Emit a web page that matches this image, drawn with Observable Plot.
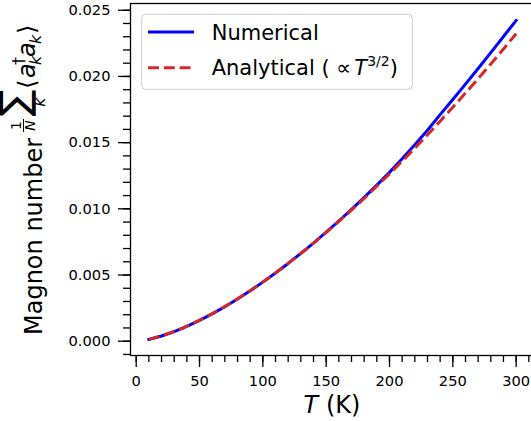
<!DOCTYPE html>
<html><head><meta charset="utf-8">
<script src="https://cdn.jsdelivr.net/npm/d3@7"></script>
<script src="https://cdn.jsdelivr.net/npm/@observablehq/plot@0.6"></script>
<style>
html,body{margin:0;padding:0;background:#fff;overflow:hidden}
svg text{font-family:"DejaVu Sans"}
</style></head><body><div id="chart"></div>
<script>
const temperatures = [10,20,30,40,50,60,70,80,90,100,110,120,130,140,150,160,170,180,190,200,210,220,230,240,250,260,270,280,290,300];
const numerical = [0.000135,0.000395,0.000728,0.001122,0.001570,0.002066,0.002606,0.003187,0.003806,0.004462,0.005152,0.005874,0.006630,0.007415,0.008232,0.009080,0.009955,0.010860,0.011792,0.012753,0.013775,0.014836,0.015932,0.017119,0.018259,0.019420,0.020601,0.021803,0.023016,0.024227];
const analytical = [0.0001414,0.0003998,0.0007345,0.0011308,0.0015804,0.0020775,0.0026179,0.0031985,0.0038165,0.00447,0.005157,0.0058758,0.0066254,0.0074046,0.0082118,0.0090468,0.0099078,0.010795,0.011707,0.012643,0.013603,0.014586,0.015592,0.016619,0.017669,0.01874,0.019831,0.020943,0.022076,0.023227];
const xTicks = [0,50,100,150,200,250,300];
const yTicks = [0,0.005,0.010,0.015,0.020,0.025];
const xMinorTicks = [0,10,20,30,40,50,60,70,80,90,100,110,120,130,140,150,160,170,180,190,200,210,220,230,240,250,260,270,280,290,300,310];
const yMinorTicks = [-0.001,0,0.001,0.002,0.003,0.004,0.005,0.006,0.007,0.008,0.009,0.010,0.011,0.012,0.013,0.014,0.015,0.016,0.017,0.018,0.019,0.020,0.021,0.022,0.023,0.024,0.025];
const seriesNames = ["Numerical", "Analytical ("];

const rows = temperatures.map((t, i) => ({t, numerical: numerical[i], analytical: analytical[i]}));

const svg = Plot.plot({
  width: 531, height: 421,
  marginLeft: 130, marginRight: -3, marginTop: 3, marginBottom: 66,
  style: {fontFamily: "DejaVu Sans", fontSize: "14.67px", color: "#000", background: "#fff", overflow: "hidden"},
  x: {domain: [-4.5, 314.5]},
  y: {domain: [-0.00108, 0.02551]},
  marks: [
    Plot.axisX(xMinorTicks, {tickSize: 7, text: null, label: null, strokeWidth: 1.3}),
    Plot.axisX(xTicks, {tickSize: 12, tickPadding: 8, tickFormat: d => String(d), label: null, strokeWidth: 1.3, fontSize: 14.67}),
    Plot.axisY(yMinorTicks, {tickSize: 7, text: null, label: null, strokeWidth: 1.3}),
    Plot.axisY(yTicks, {tickSize: 12, tickPadding: 8, tickFormat: d3.format(".3f"), label: null, strokeWidth: 1.3, fontSize: 14.67}),
    Plot.line(rows, {x: "t", y: "numerical", stroke: "#0000ff", strokeWidth: 3, strokeLinecap: "square"}),
    Plot.line(rows, {x: "t", y: "analytical", stroke: "#d62728", strokeWidth: 3, strokeDasharray: "11,4.8", strokeLinecap: "butt"}),
    Plot.frame({stroke: "#000", strokeWidth: 1.3})
  ]
});
document.getElementById("chart").appendChild(svg);

const s = d3.select(svg);
// x label
const xl = s.append("text").attr("x", 332).attr("y", 413).attr("text-anchor", "middle").attr("font-size", 24).attr("fill", "#000");
xl.append("tspan").attr("font-style", "italic").text("T");
xl.append("tspan").text(" (K)");

// y label
const g = s.append("g").attr("transform", "translate(42,335) rotate(-90)").attr("fill", "#000").attr("text-anchor", "start");
g.append("text").attr("x", 0).attr("y", 0).attr("font-size", 24).text("Magnon number");
g.append("text").attr("x", 209.5).attr("y", -21).attr("font-size", 14).attr("text-anchor", "middle").text("1");
g.append("line").attr("x1", 203).attr("x2", 216).attr("y1", -18.5).attr("y2", -18.5).attr("stroke", "#000").attr("stroke-width", 1);
g.append("text").attr("x", 209.5).attr("y", -7).attr("font-size", 14).attr("font-style", "italic").attr("text-anchor", "middle").text("N");
g.append("text").attr("x", 232).attr("y", -14.5).attr("font-size", 40).attr("text-anchor", "middle").text("\u2211");
g.append("text").attr("x", 233).attr("y", 3).attr("font-size", 16).attr("font-style", "italic").attr("text-anchor", "middle").text("k");
g.append("text").attr("x", 246).attr("y", -7).attr("font-size", 24).text("\u27E8");
g.append("text").attr("x", 257).attr("y", -7).attr("font-size", 24).attr("font-style", "italic").text("a");
g.append("text").attr("x", 270).attr("y", -1).attr("font-size", 16).attr("font-style", "italic").text("k");
g.append("text").attr("x", 270).attr("y", -18).attr("font-size", 16).text("\u2020");
g.append("text").attr("x", 278).attr("y", -7).attr("font-size", 24).attr("font-style", "italic").text("a");
g.append("text").attr("x", 291).attr("y", -1).attr("font-size", 16).attr("font-style", "italic").text("k");
g.append("text").attr("x", 301).attr("y", -7).attr("font-size", 24).text("\u27E9");

// legend
const lg = s.append("g").attr("text-anchor", "start");
lg.append("rect").attr("x", 141.7).attr("y", 14.3).attr("width", 270.6).attr("height", 75).attr("rx", 4)
  .attr("fill", "#fff").attr("fill-opacity", 0.8).attr("stroke", "#cccccc").attr("stroke-width", 1);
lg.append("line").attr("x1", 148).attr("x2", 194).attr("y1", 32).attr("y2", 32).attr("stroke", "#0000ff").attr("stroke-width", 3);
lg.append("line").attr("x1", 148).attr("x2", 194).attr("y1", 67.7).attr("y2", 67.7).attr("stroke", "#d62728").attr("stroke-width", 3).attr("stroke-dasharray", "11,4.8");
lg.append("text").attr("x", 211.7).attr("y", 39.5).attr("font-size", 21).attr("fill", "#000").text(seriesNames[0]);
const at = lg.append("text").attr("x", 211.7).attr("y", 74.5).attr("font-size", 21).attr("fill", "#000");
at.append("tspan").text(seriesNames[1] + " \u221D");
at.append("tspan").attr("dx", 3).attr("font-style", "italic").text("T");
at.append("tspan").attr("font-size", 14).attr("dy", -9).text("3/2");
at.append("tspan").attr("dy", 9).text(")");
</script></body></html>
